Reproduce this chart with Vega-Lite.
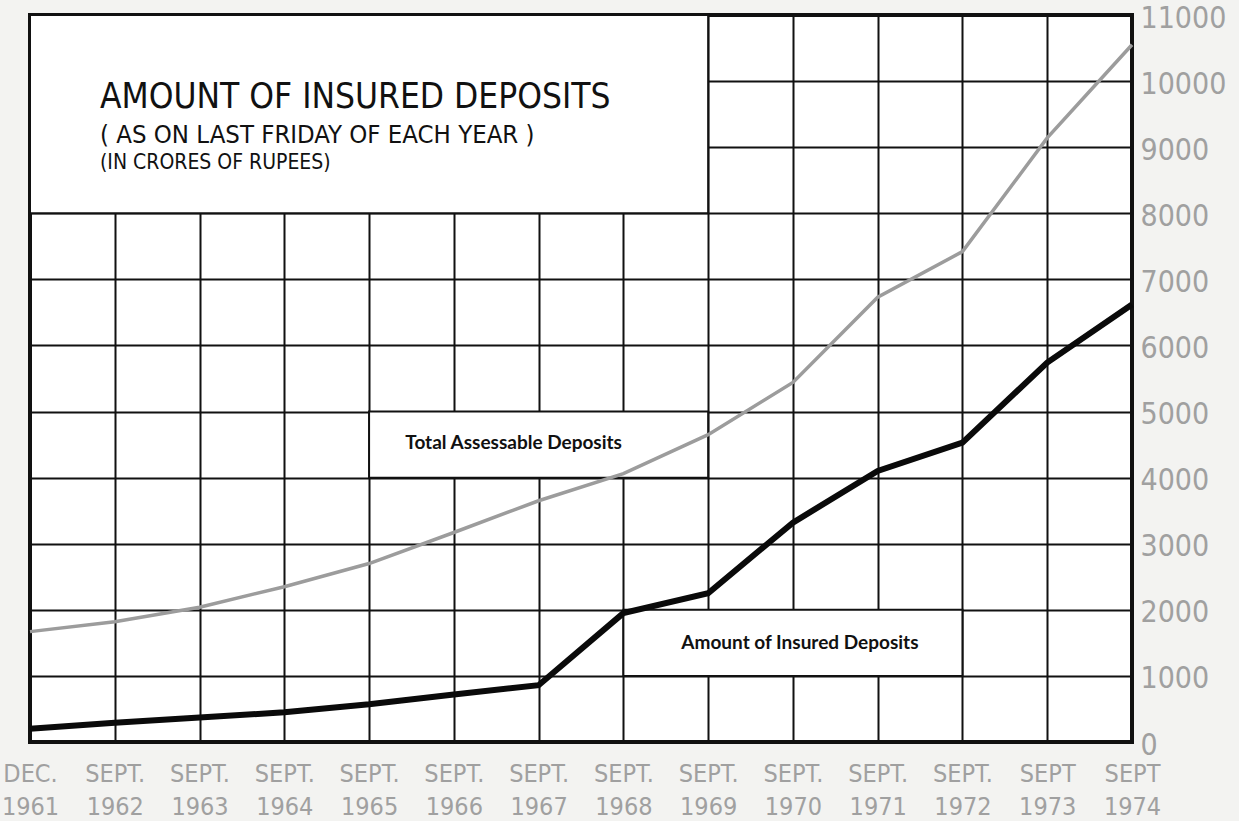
{
  "$schema": "https://vega.github.io/schema/vega-lite/v6.json",
  "width": 1102,
  "height": 727,
  "autosize": "none",
  "padding": {"left": 30, "top": 15, "right": 107, "bottom": 79},
  "background": "#f3f3f1",
  "config": {
    "view": {"fill": "#ffffff", "stroke": "#111111", "strokeWidth": 4},
    "axis": {
      "zindex": 0,
      "grid": true, "gridColor": "#111111", "gridWidth": 2, "gridOpacity": 1,
      "domain": false, "ticks": false, "labelColor": "#a0a0a0",
      "labelFont": "DejaVu Sans Condensed, Liberation Sans Narrow, sans-serif",
      "labelOverlap": false, "labelFlush": false
    },
    "axisX": {"labelFontSize": 25, "labelPadding": 19, "labelBaseline": "top", "labelLineHeight": 33, "labelAngle": 0},
    "axisY": {"labelFontSize": 30, "labelPadding": 8, "labelOffset": 3, "labelAlign": "left", "labelBaseline": "middle"}
  },
  "datasets": {
    "series": [
      {"period": "DEC.|1961", "series": "Total Assessable Deposits", "value": 1670},
      {"period": "SEPT.|1962", "series": "Total Assessable Deposits", "value": 1820},
      {"period": "SEPT.|1963", "series": "Total Assessable Deposits", "value": 2040},
      {"period": "SEPT.|1964", "series": "Total Assessable Deposits", "value": 2350},
      {"period": "SEPT.|1965", "series": "Total Assessable Deposits", "value": 2700},
      {"period": "SEPT.|1966", "series": "Total Assessable Deposits", "value": 3170},
      {"period": "SEPT.|1967", "series": "Total Assessable Deposits", "value": 3650},
      {"period": "SEPT.|1968", "series": "Total Assessable Deposits", "value": 4060},
      {"period": "SEPT.|1969", "series": "Total Assessable Deposits", "value": 4650},
      {"period": "SEPT.|1970", "series": "Total Assessable Deposits", "value": 5440},
      {"period": "SEPT.|1971", "series": "Total Assessable Deposits", "value": 6730},
      {"period": "SEPT.|1972", "series": "Total Assessable Deposits", "value": 7420},
      {"period": "SEPT|1973", "series": "Total Assessable Deposits", "value": 9140},
      {"period": "SEPT|1974", "series": "Total Assessable Deposits", "value": 10550},
      {"period": "DEC.|1961", "series": "Amount of Insured Deposits", "value": 200},
      {"period": "SEPT.|1962", "series": "Amount of Insured Deposits", "value": 290},
      {"period": "SEPT.|1963", "series": "Amount of Insured Deposits", "value": 370},
      {"period": "SEPT.|1964", "series": "Amount of Insured Deposits", "value": 450},
      {"period": "SEPT.|1965", "series": "Amount of Insured Deposits", "value": 570},
      {"period": "SEPT.|1966", "series": "Amount of Insured Deposits", "value": 720},
      {"period": "SEPT.|1967", "series": "Amount of Insured Deposits", "value": 860},
      {"period": "SEPT.|1968", "series": "Amount of Insured Deposits", "value": 1950},
      {"period": "SEPT.|1969", "series": "Amount of Insured Deposits", "value": 2250},
      {"period": "SEPT.|1970", "series": "Amount of Insured Deposits", "value": 3320},
      {"period": "SEPT.|1971", "series": "Amount of Insured Deposits", "value": 4100},
      {"period": "SEPT.|1972", "series": "Amount of Insured Deposits", "value": 4530},
      {"period": "SEPT|1973", "series": "Amount of Insured Deposits", "value": 5740},
      {"period": "SEPT|1974", "series": "Amount of Insured Deposits", "value": 6620}
    ],
    "boxes": [
      {"box": "title", "from": "DEC.|1961", "to": "SEPT.|1969", "low": 8000, "high": 11000},
      {"box": "total", "from": "SEPT.|1965", "to": "SEPT.|1969", "low": 4000, "high": 5000},
      {"box": "insured", "from": "SEPT.|1968", "to": "SEPT.|1972", "low": 1000, "high": 2000}
    ],
    "notes": [
      {"role": "title", "text": "AMOUNT OF INSURED DEPOSITS", "at": "DEC.|1961", "value": 9760},
      {"role": "sub", "text": "( AS ON LAST FRIDAY OF EACH YEAR )", "at": "DEC.|1961", "value": 9185},
      {"role": "unit", "text": "(IN CRORES OF RUPEES)", "at": "DEC.|1961", "value": 8760},
      {"role": "label1", "text": "Total Assessable Deposits", "at": "SEPT.|1967", "value": 4520},
      {"role": "label2", "text": "Amount of Insured Deposits", "at": "SEPT.|1970", "value": 1500}
    ]
  },
  "layer": [
    {
      "data": {"name": "boxes"},
      "mark": {"type": "rect", "fill": "#ffffff", "fillOpacity": 1, "opacity": 1, "stroke": "#111111", "strokeWidth": 2},
      "encoding": {
        "x": {"field": "from", "type": "ordinal", "title": null,
              "scale": {"type": "point", "padding": 0, "domain": ["DEC.|1961","SEPT.|1962","SEPT.|1963","SEPT.|1964","SEPT.|1965","SEPT.|1966","SEPT.|1967","SEPT.|1968","SEPT.|1969","SEPT.|1970","SEPT.|1971","SEPT.|1972","SEPT|1973","SEPT|1974"]},
              "axis": {"labelExpr": "split(datum.label, '|')", "zindex": 0}},
        "x2": {"field": "to"},
        "y": {"field": "low", "type": "quantitative", "title": null,
              "scale": {"domain": [0, 11000], "nice": false, "zero": true},
              "axis": {"orient": "right", "zindex": 0, "values": [0,1000,2000,3000,4000,5000,6000,7000,8000,9000,10000,11000], "format": "d"}},
        "y2": {"field": "high"}
      }
    },
    {
      "data": {"name": "series"},
      "transform": [{"filter": "datum.series === 'Total Assessable Deposits'"}],
      "mark": {"type": "line", "color": "#9c9c9c", "strokeWidth": 3.5},
      "encoding": {
        "x": {"field": "period", "type": "ordinal", "title": null},
        "y": {"field": "value", "type": "quantitative", "title": null}
      }
    },
    {
      "data": {"name": "series"},
      "transform": [{"filter": "datum.series === 'Amount of Insured Deposits'"}],
      "mark": {"type": "line", "color": "#0a0a0a", "strokeWidth": 6, "strokeJoin": "miter"},
      "encoding": {
        "x": {"field": "period", "type": "ordinal", "title": null},
        "y": {"field": "value", "type": "quantitative", "title": null}
      }
    },
    {
      "data": {"name": "notes"},
      "transform": [{"filter": "datum.role === 'title'"}],
      "mark": {"type": "text", "align": "left", "baseline": "middle", "dx": 70, "fontSize": 35, "font": "DejaVu Sans Condensed, Liberation Sans Narrow, sans-serif", "color": "#111111"},
      "encoding": {
        "x": {"field": "at", "type": "ordinal", "title": null},
        "y": {"field": "value", "type": "quantitative", "title": null},
        "text": {"field": "text"}
      }
    },
    {
      "data": {"name": "notes"},
      "transform": [{"filter": "datum.role === 'sub'"}],
      "mark": {"type": "text", "align": "left", "baseline": "middle", "dx": 70, "fontSize": 25.5, "font": "DejaVu Sans Condensed, Liberation Sans Narrow, sans-serif", "color": "#111111"},
      "encoding": {
        "x": {"field": "at", "type": "ordinal", "title": null},
        "y": {"field": "value", "type": "quantitative", "title": null},
        "text": {"field": "text"}
      }
    },
    {
      "data": {"name": "notes"},
      "transform": [{"filter": "datum.role === 'unit'"}],
      "mark": {"type": "text", "align": "left", "baseline": "middle", "dx": 70, "fontSize": 21, "font": "DejaVu Sans Condensed, Liberation Sans Narrow, sans-serif", "color": "#111111"},
      "encoding": {
        "x": {"field": "at", "type": "ordinal", "title": null},
        "y": {"field": "value", "type": "quantitative", "title": null},
        "text": {"field": "text"}
      }
    },
    {
      "data": {"name": "notes"},
      "transform": [{"filter": "datum.role === 'label1'"}],
      "mark": {"type": "text", "align": "center", "baseline": "middle", "dx": -25, "fontSize": 19, "fontWeight": "bold", "font": "Lato, Open Sans, sans-serif", "color": "#111111"},
      "encoding": {
        "x": {"field": "at", "type": "ordinal", "title": null},
        "y": {"field": "value", "type": "quantitative", "title": null},
        "text": {"field": "text"}
      }
    },
    {
      "data": {"name": "notes"},
      "transform": [{"filter": "datum.role === 'label2'"}],
      "mark": {"type": "text", "align": "center", "baseline": "middle", "dx": 7, "fontSize": 19, "fontWeight": "bold", "font": "Lato, Open Sans, sans-serif", "color": "#111111"},
      "encoding": {
        "x": {"field": "at", "type": "ordinal", "title": null},
        "y": {"field": "value", "type": "quantitative", "title": null},
        "text": {"field": "text"}
      }
    }
  ]
}
